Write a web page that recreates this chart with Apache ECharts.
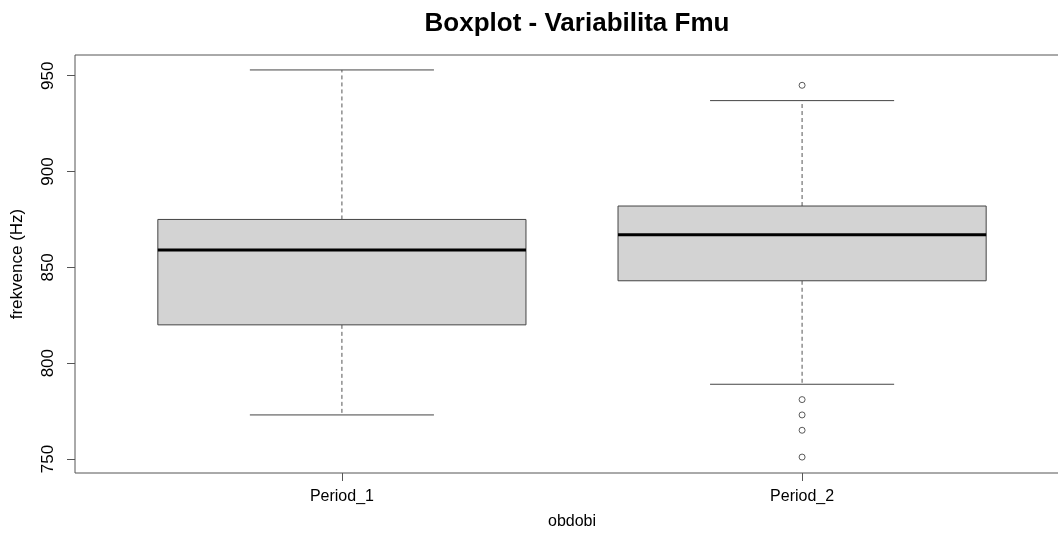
<!DOCTYPE html>
<html>
<head>
<meta charset="utf-8">
<script src="https://cdn.jsdelivr.net/npm/echarts@6/dist/echarts.min.js"></script>
<style>
  html, body { margin: 0; padding: 0; background: #fff; }
</style>
</head>
<body>
<div id="chart" style="width: 1058px; height: 537px"></div>
<script>
// data
const categories = ['Period_1', 'Period_2'];
const whiskerLow = [773, 789];
const q1 = [820, 843];
const median = [859, 867];
const q3 = [875, 882];
const whiskerHigh = [953, 937];
const outliers = [[], [945, 781, 773, 765, 751]];
const yTicks = [750, 800, 850, 900, 950];

const font = 'Liberation Sans, Arial, sans-serif';

let boxData = categories.map((c, i) => [i + 1, whiskerLow[i], q1[i], median[i], q3[i], whiskerHigh[i]]);
let outlierData = [];
outliers.forEach((list, i) => {
  list.forEach(v => outlierData.push([i + 1, v]));
});

function renderBox(params, api) {
  let x = api.value(0);
  let lo = api.coord([x, api.value(1)]);
  let b1 = api.coord([x, api.value(2)]);
  let md = api.coord([x, api.value(3)]);
  let b3 = api.coord([x, api.value(4)]);
  let hi = api.coord([x, api.value(5)]);
  let boxW = api.size([0.8, 0])[0];
  let capW = boxW / 2;
  let cx = lo[0];
  let whisker = { stroke: '#555', lineWidth: 1, lineDash: [4, 3] };
  let solid = { stroke: '#444', lineWidth: 1 };
  return {
    type: 'group',
    children: [
      { type: 'line', shape: { x1: cx, y1: b3[1], x2: cx, y2: hi[1] }, style: whisker },
      { type: 'line', shape: { x1: cx, y1: b1[1], x2: cx, y2: lo[1] }, style: whisker },
      { type: 'line', shape: { x1: cx - capW / 2, y1: hi[1], x2: cx + capW / 2, y2: hi[1] }, style: solid },
      { type: 'line', shape: { x1: cx - capW / 2, y1: lo[1], x2: cx + capW / 2, y2: lo[1] }, style: solid },
      {
        type: 'rect',
        shape: { x: cx - boxW / 2, y: b3[1], width: boxW, height: b1[1] - b3[1] },
        style: { fill: '#d3d3d3', stroke: '#444', lineWidth: 1 }
      },
      { type: 'line', shape: { x1: cx - boxW / 2, y1: md[1], x2: cx + boxW / 2, y2: md[1] }, style: { stroke: '#000', lineWidth: 3 } }
    ]
  };
}

let myChart = echarts.init(document.getElementById('chart'));
myChart.setOption({
  animation: false,
  title: {
    text: 'Boxplot - Variabilita Fmu',
    left: 572,
    top: 6,
    textAlign: 'center',
    textStyle: { fontFamily: font, fontSize: 26, fontWeight: 'bold', color: '#000' }
  },
  grid: {
    left: 75,
    top: 55,
    right: -11,
    height: 418,
    outerBoundsMode: 'none',
    containLabel: false,
    show: true,
    borderColor: '#555',
    borderWidth: 1
  },
  xAxis: {
    type: 'value',
    min: 0.42,
    max: 2.58,
    name: 'obdobi',
    nameLocation: 'middle',
    nameGap: 41,
    nameTextStyle: { fontFamily: font, fontSize: 16, color: '#000' },
    axisLine: { show: false },
    splitLine: { show: false },
    axisTick: { show: true, length: 8, customValues: [1, 2], lineStyle: { color: '#555' } },
    axisLabel: {
      customValues: [1, 2],
      margin: 16,
      fontFamily: font,
      fontSize: 16,
      color: '#000',
      formatter: function (v) {
        return categories[Math.round(v) - 1] || '';
      }
    }
  },
  yAxis: {
    type: 'value',
    min: 742.7,
    max: 960.8,
    name: 'frekvence (Hz)',
    nameLocation: 'middle',
    nameGap: 49,
    nameTextStyle: { fontFamily: font, fontSize: 17, color: '#000' },
    axisLine: { show: false },
    splitLine: { show: false },
    axisTick: { show: true, length: 8, customValues: yTicks, lineStyle: { color: '#555' } },
    axisLabel: {
      customValues: yTicks,
      rotate: 90,
      margin: 18,
      fontFamily: font,
      fontSize: 17,
      color: '#000'
    }
  },
  series: [
    {
      type: 'custom',
      renderItem: renderBox,
      data: boxData,
      encode: { x: 0, y: [1, 2, 3, 4, 5] },
      clip: true
    },
    {
      type: 'scatter',
      data: outlierData,
      symbol: 'circle',
      symbolSize: 6,
      itemStyle: { color: '#fff', borderColor: '#333', borderWidth: 1 }
    }
  ]
});
</script>
</body>
</html>
